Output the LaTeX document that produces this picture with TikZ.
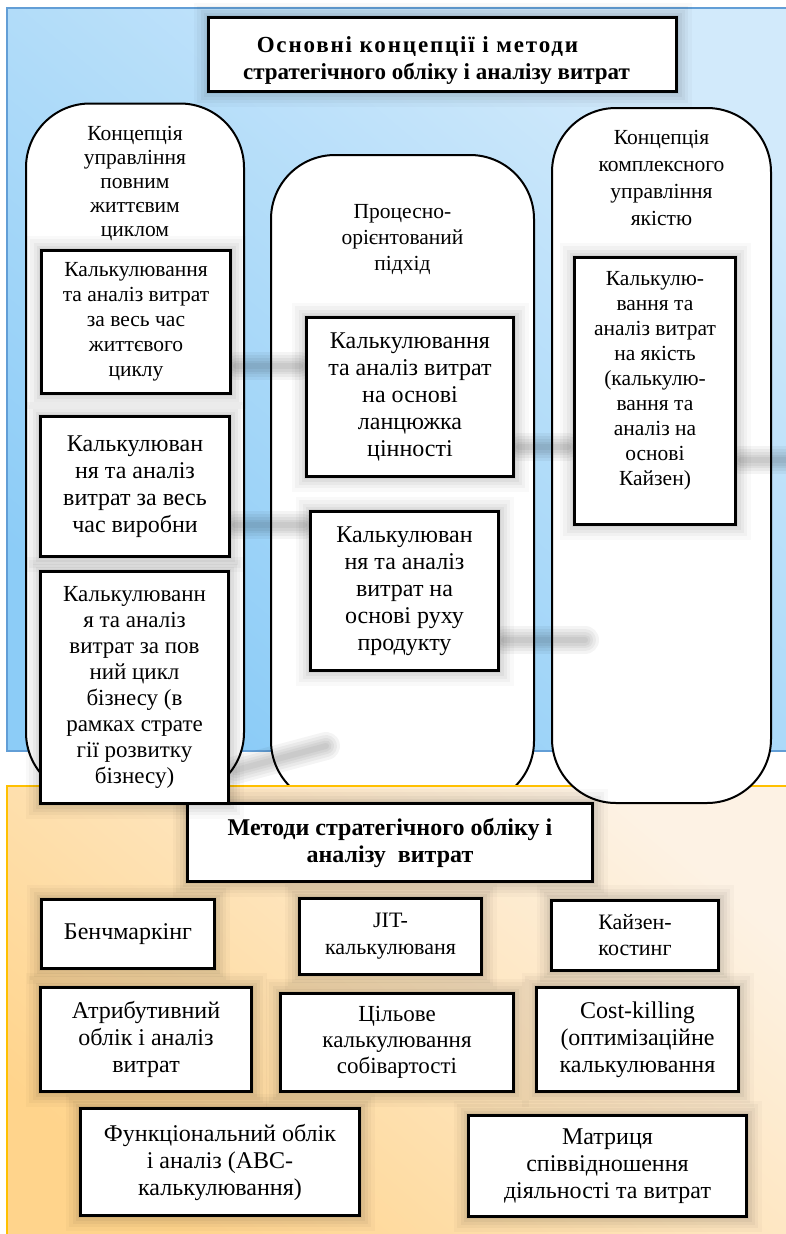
\documentclass[tikz,border=0pt]{standalone}
\usepackage{fontspec}
\setmainfont{Liberation Serif}
\usetikzlibrary{positioning}
\definecolor{bgblue}{RGB}{140,204,247}
\definecolor{bgbluelight}{RGB}{210,234,251}
\definecolor{blueedge}{RGB}{98,158,214}
\definecolor{bgorange}{RGB}{255,212,140}
\definecolor{bgorangelight}{RGB}{253,242,228}
\definecolor{goldedge}{RGB}{255,192,0}

\begin{document}
\begin{tikzpicture}[x=1pt, y=-1pt,
  pill/.style={
    draw=black,
    line width=2pt,
    fill=white,
    rounded corners=64pt,
    inner sep=0pt
  },
  pilltext/.style={
    align=center,
    font=\fontsize{21.5}{24}\selectfont
  },
  costbox/.style={
    draw=black,
    line width=3pt,
    fill=white,
    align=center,
    inner sep=2pt,
    preaction={draw=black, opacity=0.025, line width=30pt, rounded corners=8pt},
    preaction={draw=black, opacity=0.03, line width=23pt, rounded corners=6pt},
    preaction={draw=black, opacity=0.035, line width=16pt, rounded corners=4pt},
    preaction={draw=black, opacity=0.04, line width=10pt},
    preaction={draw=black, opacity=0.05, line width=5pt}
  },
  smalltext/.style={font=\fontsize{21.5}{25}\selectfont},
  bigtext/.style={font=\fontsize{24}{27}\selectfont},
  headbox/.style={
    costbox,
    font=\fontsize{23}{27}\selectfont\bfseries
  },
  streak/.style={line width=#1, black, opacity=0.045, line cap=round}
]
\useasboundingbox (0,0) rectangle (786,1234);

% -------- Backgrounds and concept pills --------
\draw[draw=blueedge, line width=1.5pt, top color=bgbluelight, bottom color=bgblue, shading angle=-40]
  (7,8) rectangle (800,751);
\node[pill, minimum width=218pt, minimum height=693pt] (pillL) at (135,450) {};
\node[pill, minimum width=263pt, minimum height=650pt] (pillM) at (402.5,480) {};
\draw[draw=goldedge, line width=2pt, top color=bgorangelight, bottom color=bgorange, shading angle=-40]
  (7,786) rectangle (800,1250);
\node[pill, minimum width=219pt, minimum height=695pt] (pillR) at (661.5,455.5) {};

% -------- Soft streaks between the pills --------
\coordinate (a1r) at (236,366);  \coordinate (m1l) at (300,366);
\coordinate (a2r) at (235,525);  \coordinate (m2l) at (304,525);
\coordinate (m1r) at (519,447);  \coordinate (r1l) at (568,447);
\coordinate (m2r) at (504,640);  \coordinate (s4end) at (585,640);
\coordinate (r1r) at (741,460);  \coordinate (s5end) at (800,460);
\coordinate (a3r) at (236,770);  \coordinate (s6end) at (326,746);
\foreach \w in {28,22,16,11,6} {
  \draw[streak=\w pt] (a1r) -- (m1l);
  \draw[streak=\w pt] (a2r) -- (m2l);
  \draw[streak=\w pt] (m1r) -- (r1l);
  \draw[streak=\w pt] (m2r) -- (s4end);
  \draw[streak=\w pt] (r1r) -- (s5end);
  \draw[streak=\w pt] (a3r) -- (s6end);
}

% -------- Titles --------
\node[headbox, minimum width=468pt, minimum height=74pt] (top) at (442.5,54.5)
{\rule{0pt}{28pt}{\addfontfeatures{LetterSpace=8}Основні концепції і методи}\hspace*{50pt}\\стратегічного обліку і аналізу витрат\hspace*{12pt}};

\node[headbox, font=\fontsize{24}{27}\selectfont\bfseries, minimum width=405pt, minimum height=78pt] (methods) at (390,842.5)
{Методи стратегічного обліку і\\аналізу\ \ витрат};

% -------- Pill headings --------
\node[pilltext] (tL) at (135,183)
{Концепція\\управління\\повним\\життєвим\\циклом};
\node[pilltext, font=\fontsize{21.5}{26}\selectfont] (tM) at (402.5,240)
{Процесно-\\орієнтований\\підхід};
\node[pilltext, font=\fontsize{21.5}{27}\selectfont] (tR) at (661.5,178)
{Концепція\\комплексного\\управління\\якістю};

% -------- Costing boxes inside pills --------
\node[costbox, smalltext, minimum width=189pt, minimum height=143pt] (A1) at (136,322)
{Калькулювання\\та аналіз витрат\\за весь час\\життєвого\\циклу};
\node[costbox, bigtext, minimum width=189pt, minimum height=140pt] (A2) at (135,486.5)
{Калькулюван\\ня та аналіз\\витрат за весь\\час виробни};
\node[costbox, font=\fontsize{23}{26}\selectfont, minimum width=188pt, minimum height=232pt] (A3) at (134.5,687.5)
{Калькулюванн\\я та аналіз\\витрат за пов\\ний цикл\\бізнесу (в\\рамках страте\\гії розвитку\\бізнесу)};

\node[costbox, bigtext, minimum width=207pt, minimum height=159pt] (M1) at (410,397)
{Калькулювання\\та аналіз витрат\\на основі\\ланцюжка\\цінності};
\node[costbox, bigtext, minimum width=188pt, minimum height=159pt] (M2) at (404.5,591)
{Калькулюван\\ня та аналіз\\витрат на\\основі руху\\продукту};

\node[costbox, smalltext, minimum width=161pt, minimum height=267pt] (R1) at (655,391)
{Калькулю-\\вання та\\аналіз витрат\\на якість\\(калькулю-\\вання та\\аналіз на\\основі\\Кайзен)\\\mbox{}};

% -------- Methods --------
\node[costbox, bigtext, minimum width=173pt, minimum height=69pt] (bench) at (128,934) {Бенчмаркінг};
\node[costbox, font=\fontsize{22}{27}\selectfont, minimum width=182pt, minimum height=76pt] (jit) at (390.5,936.5)
{JIT-\\калькулюваня};
\node[costbox, font=\fontsize{22}{26}\selectfont, minimum width=167pt, minimum height=70pt] (kaizen) at (635,935)
{Кайзен-\\костинг};

\node[costbox, bigtext, minimum width=211pt, minimum height=104pt] (attr) at (146,1039.5)
{Атрибутивний\\облік і аналіз\\витрат};
\node[costbox, font=\fontsize{23}{26}\selectfont, minimum width=233pt, minimum height=98pt] (target) at (397,1042.5)
{Цільове\\калькулювання\\собівартості};
\node[costbox, bigtext, minimum width=202pt, minimum height=104pt] (killing) at (637.5,1039.5)
{Cost-killing\\(оптимізаційне\\калькулювання};

\node[costbox, bigtext, minimum width=279pt, minimum height=107pt] (abc) at (220,1162)
{Функціональний облік\\і аналіз (ABC-\\калькулювання)};
\node[costbox, bigtext, minimum width=278pt, minimum height=101pt] (matrix) at (607.5,1166)
{Матриця\\співвідношення\\діяльності та витрат};

\end{tikzpicture}
\end{document}
